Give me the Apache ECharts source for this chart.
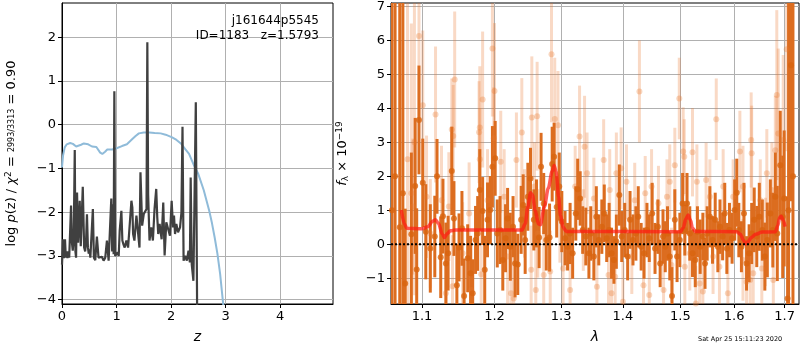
<!DOCTYPE html>
<html>
<head>
<meta charset="utf-8">
<script src="https://cdn.jsdelivr.net/npm/echarts@6/dist/echarts.min.js"></script>
<style>
html,body{margin:0;padding:0;background:#fff}
#main{width:800px;height:350px}
</style>
</head>
<body>
<div id="main"></div>
<script>
// ---- left panel: log p(z) and chi2 curve ----
var pzZ = [0.000,0.010,0.020,0.035,0.055,0.070,0.086,0.100,0.117,0.132,0.148,0.166,0.182,0.197,0.215,0.234,0.246,0.258,0.276,0.295,
  0.310,0.325,0.344,0.362,0.381,0.406,0.425,0.440,0.458,0.475,0.490,0.505,0.520,0.545,0.566,0.585,0.610,0.640,0.670,0.700,
  0.732,0.763,0.793,0.824,0.855,0.886,0.904,0.920,0.935,0.947,0.960,0.975,0.990,1.021,1.040,1.058,1.089,1.107,1.130,1.150,
  1.181,1.212,1.242,1.273,1.290,1.304,1.328,1.365,1.390,1.421,1.439,1.470,1.500,1.531,1.550,1.565,1.580,1.605,1.636,1.667,
  1.697,1.728,1.747,1.765,1.790,1.827,1.857,1.882,1.913,1.943,1.980,2.011,2.036,2.054,2.073,2.097,2.128,2.165,2.190,2.210,
  2.230,2.260,2.290,2.320,2.345,2.360,2.380,2.410,2.454,2.480];
var pzVal = [-3.20,-3.19,-2.62,-3.05,-2.62,-3.04,-2.90,-3.05,-2.90,-3.04,-3.02,-1.85,-2.70,-2.88,-2.60,-0.58,-2.90,-3.04,-1.55,-2.70,
  -2.30,-1.74,-2.78,-2.80,-1.42,-2.81,-2.90,-2.70,-2.05,-2.80,-2.95,-2.85,-3.04,-3.00,-1.93,-3.04,-3.10,-2.56,-3.04,-3.04,
  -3.02,-3.11,-3.04,-2.65,-3.11,-3.11,-1.69,-2.90,-1.82,-2.96,0.76,-3.00,-3.04,-2.92,-3.00,-2.43,-1.97,-2.65,-2.75,-2.81,
  -2.65,-2.81,-2.85,-1.74,-1.89,-2.50,-2.65,-2.08,-2.04,-2.81,-1.09,-2.31,-2.04,-2.08,-1.93,1.885,-1.60,-2.65,-2.35,-2.65,
  -1.93,-1.47,-2.12,-2.50,-2.27,-2.62,-1.78,-2.99,-2.23,-2.20,-2.54,-1.74,-2.35,-2.08,-2.50,-2.27,-2.46,-2.35,-2.01,-0.05,
  -3.11,-3.00,-3.11,-2.88,-3.15,-1.21,-3.20,-3.57,0.51,-4.60];

var chiZ = [0.00,0.02,0.05,0.087,0.15,0.20,0.26,0.29,0.35,0.40,0.48,0.55,0.63,0.70,0.74,0.79,0.83,0.92,1.00,1.10,
  1.19,1.29,1.35,1.41,1.50,1.60,1.70,1.81,1.90,2.02,2.10,2.18,2.26,2.33,2.42,2.50,2.60,2.70,2.75,2.80,2.85,2.90,2.95,3.00];
var chiVal = [-0.98,-0.70,-0.52,-0.45,-0.42,-0.44,-0.50,-0.50,-0.46,-0.43,-0.45,-0.50,-0.51,-0.64,-0.67,-0.62,-0.57,-0.57,-0.54,-0.49,
  -0.45,-0.33,-0.26,-0.20,-0.18,-0.18,-0.19,-0.20,-0.23,-0.29,-0.35,-0.43,-0.56,-0.67,-0.93,-1.13,-1.50,-1.97,-2.25,-2.58,-2.95,-3.41,-4.03,-4.60];

// ---- right panel: spectrum ----
var darkLam = [1.061,1.065,1.071,1.075,1.078,1.086,1.091,1.093,1.096,1.101,1.105,1.111,1.117,1.120,1.125,1.128,1.132,1.135,1.140,1.143,
  1.147,1.150,1.154,1.157,1.162,1.166,1.169,1.173,1.176,1.179,1.183,1.186,1.190,1.194,1.197,1.201,1.204,1.208,1.212,1.216,
  1.219,1.223,1.227,1.230,1.234,1.239,1.242,1.245,1.249,1.253,1.258,1.262,1.266,1.269,1.273,1.277,1.282,1.286,1.289,1.293,
  1.297,1.301,1.306,1.310,1.314,1.318,1.323,1.326,1.330,1.334,1.339,1.344,1.347,1.352,1.356,1.360,1.365,1.369,1.373,1.377,
  1.381,1.385,1.389,1.394,1.398,1.403,1.408,1.412,1.417,1.422,1.426,1.431,1.436,1.441,1.445,1.450,1.455,1.460,1.464,1.469,
  1.473,1.477,1.481,1.485,1.490,1.494,1.499,1.504,1.508,1.512,1.517,1.522,1.527,1.531,1.536,1.541,1.545,1.549,1.554,1.559,
  1.564,1.569,1.573,1.578,1.582,1.586,1.591,1.596,1.601,1.605,1.609,1.614,1.619,1.624,1.629,1.634,1.639,1.644,1.649,1.655,
  1.660,1.665,1.671,1.676,1.681,1.685,1.691,1.696,1.699,1.706,1.708,1.713,1.717];
var darkFlux = [1.0,2.0,0.5,1.5,-1.15,0.3,1.72,-0.74,3.66,1.81,0.37,-0.12,0.23,2.0,-0.38,0.83,-0.56,-0.26,2.16,0.76,
  -1.2,-0.09,0.47,-1.52,-0.41,-0.85,-1.44,0.13,0.32,1.6,0.98,-0.75,0.72,1.01,2.28,2.53,0.32,0.42,-0.46,0.18,
  0.76,-0.07,0.52,-0.56,-0.59,0.72,1.16,0.13,1.4,1.94,0.72,0.91,0.2,2.28,1.2,0.13,0.2,2.36,2.58,1.1,
  1.7,0.67,0.18,-0.07,0.32,-0.26,0.91,1.62,1.35,0.42,0.23,-0.26,0.32,-0.36,0.81,0.13,0.52,0.91,0.18,0.42,
  -0.26,-0.46,0.08,1.45,0.23,0.42,-0.36,0.72,0.13,0.32,0.81,-0.07,-0.26,0.42,0.18,0.91,-0.12,0.52,-0.56,0.23,
  -0.07,0.32,-0.36,-1.52,0.72,-0.36,0.13,1.2,0.42,1.2,0.32,-0.26,-0.46,0.37,-0.07,0.23,-0.56,0.32,0.81,0.13,
  0.72,-0.07,0.52,0.23,0.91,-0.12,0.42,0.18,1.01,1.52,0.42,-0.07,0.91,-0.56,-0.26,0.32,0.72,0.23,0.81,0.42,
  -0.36,0.13,0.91,0.42,1.4,0.32,2.33,0.81,1.35,-1.59,1.0,5.27,2.0];
var darkErr = [9,9,9,9,2.2,2.4,2.0,1.8,1.6,1.3,1.4,1.3,1.2,1.1,1.2,1.1,1.2,1.1,1.3,1.1,
  1.2,1.0,1.1,1.1,1.0,1.1,1.0,1.0,1.1,1.2,1.0,1.0,1.1,1.0,1.2,1.1,1.0,1.0,0.9,1.0,
  0.9,1.0,0.9,1.0,0.9,1.0,0.9,1.0,1.0,0.9,0.9,1.0,0.9,1.0,0.9,0.9,1.0,1.1,1.0,0.9,
  1.0,0.9,0.8,0.7,0.9,0.75,0.8,0.9,0.8,0.7,0.85,0.75,0.8,0.7,0.9,0.75,0.8,0.85,0.7,0.8,
  0.75,0.7,0.8,0.9,0.75,0.8,0.7,0.85,0.75,0.8,0.9,0.7,0.75,0.8,0.7,0.9,0.75,0.8,0.7,0.8,
  0.75,0.8,0.7,0.85,0.9,0.75,0.8,0.9,0.75,0.9,0.8,0.7,0.8,0.75,0.8,0.7,0.75,0.8,0.9,0.7,
  0.8,0.75,0.8,0.7,0.9,0.75,0.8,0.75,0.9,1.0,0.8,0.75,0.9,0.8,0.85,0.9,0.95,0.9,1.0,0.9,
  1.0,1.1,1.0,1.1,1.3,1.4,1.6,1.8,2.0,3.0,9,4.0,9];

var lightLam = [1.081,1.086,1.090,1.096,1.101,1.118,1.144,1.140,1.142,1.179,1.178,1.183,1.197,1.200,1.199,1.179,1.240,1.255,1.263,1.285,
  1.290,1.295,1.329,1.337,1.428,1.498,1.505,1.522,1.566,1.633,1.634,1.684,1.704,1.687,1.697,
  1.132,1.141,1.167,1.181,1.224,1.228,1.254,1.261,1.273,1.283,1.303,1.314,1.357,1.376,1.381,1.387,1.400,1.435,1.445,1.470,
  1.484,1.508,1.528,1.535,1.541,1.572,1.588,1.624,1.631,1.637,1.654,1.677,
  1.088,1.106,1.126,1.136,1.164,1.190,1.214,1.209,1.232,1.244,1.259,1.298,1.322,1.341,1.352,1.368,1.378,1.389,1.397,1.406,
  1.420,1.438,1.449,1.461,1.476,1.481,1.490,1.507,1.530,1.547,1.554,1.579,1.598,1.611,1.617,1.651,1.664,1.674,1.681,
  1.111,1.155,1.219,1.264,1.335,1.415,1.517,1.560,1.617,1.661];
var lightFlux = [2.5,1.5,3.0,6.13,4.09,3.82,4.85,3.38,3.19,3.44,3.30,4.26,5.76,4.51,3.12,2.5,3.29,3.73,3.77,5.59,
  3.69,3.5,3.17,2.87,4.5,4.29,2.73,2.71,3.68,3.07,2.68,4.39,5.74,3.26,3.07,
  -1.44,-1.23,-1.34,-0.88,-1.44,-1.59,-0.75,-1.34,-0.9,-0.8,-0.71,-1.34,-1.25,-0.9,-1.44,-0.95,-1.69,-1.2,-1.49,-1.34,
  -0.61,-0.66,-1.74,-1.15,-1.39,-0.66,-1.44,-1.1,-1.05,-0.85,-0.71,-1.05,
  1.11,1.4,1.3,1.11,0.91,1.3,1.4,2.43,2.48,0.91,1.7,0.76,1.7,2.09,1.35,2.48,1.6,2.09,2.24,1.84,
  1.3,1.5,1.7,1.21,1.4,1.84,2.33,2.58,1.84,1.89,1.4,1.7,1.4,2.73,1.7,1.3,2.09,1.6,2.77,
  0.32,-0.26,-0.36,0.32,0.42,-0.36,-0.26,-0.36,-0.46,0.07];
var lightErr = [5,5,4.5,2.5,2.2,2.0,2.0,1.5,1.5,1.8,1.5,2.0,2.0,2.0,1.5,1.5,1.6,1.8,1.6,2.0,
  1.8,1.6,1.5,1.5,1.5,1.2,1.3,1.3,1.2,1.4,1.4,2.5,3.0,2.5,2.5,
  1.5,1.5,1.4,1.4,1.3,1.3,1.3,1.3,1.3,1.2,1.2,1.2,1.2,1.2,1.2,1.2,1.2,1.1,1.1,1.1,
  1.1,1.1,1.1,1.1,1.1,1.1,1.1,1.2,1.2,1.2,1.2,1.4,
  2.0,1.8,1.6,1.6,1.5,1.5,1.4,1.5,1.4,1.3,1.3,1.3,1.2,1.2,1.2,1.2,1.2,1.2,1.2,1.1,
  1.1,1.1,1.1,1.1,1.1,1.1,1.1,1.1,1.1,1.1,1.1,1.1,1.1,1.2,1.2,1.2,1.3,1.4,1.6,
  1.6,1.5,1.4,1.3,1.2,1.1,1.1,1.1,1.2,1.3];

var modelLam = [1.073,1.077,1.080,1.100,1.108,1.114,1.118,1.122,1.127,1.130,1.134,1.138,1.145,1.240,1.245,1.249,1.253,1.256,1.260,1.265,
  1.268,1.274,1.280,1.286,1.289,1.292,1.296,1.299,1.303,1.308,1.500,1.505,1.510,1.514,1.518,1.522,1.527,1.605,1.612,1.618,
  1.622,1.627,1.633,1.642,1.655,1.681,1.686,1.690,1.693,1.697,1.701];
var modelFlux = [1.01,0.60,0.47,0.46,0.52,0.68,0.72,0.62,0.30,0.20,0.32,0.40,0.42,0.42,0.60,1.10,1.52,1.45,1.00,0.60,
  0.58,1.10,1.65,2.15,2.32,2.15,1.40,0.85,0.50,0.38,0.37,0.48,0.75,0.86,0.72,0.48,0.38,0.37,0.30,0.12,
  0.01,0.08,0.20,0.30,0.36,0.37,0.55,0.80,0.83,0.70,0.52];

var zTicks = [0,1,2,3,4];
var pzTicks = [-4,-3,-2,-1,0,1,2];
var lamTicks = [1.1,1.2,1.3,1.4,1.5,1.6,1.7];
var fluxTicks = [-1,0,1,2,3,4,5,6,7];

var lamMin = 1.0598, lamMax = 1.7295;
var font = 'DejaVu Sans';

function pairs(a, b) { return a.map(function (v, i) { return [v, b[i]]; }); }
function bars(l, f, e) { return l.map(function (v, i) { return [v, f[i] - e[i], f[i] + e[i]]; }); }
function minus(v) { return String(v).replace('-', '\u2212'); }

function errRender(params, api) {
    var top = api.coord([api.value(0), api.value(2)]);
    var bot = api.coord([api.value(0), api.value(1)]);
    return {
        type: 'rect',
        shape: { x: top[0] - 1.5, y: top[1], width: 3, height: bot[1] - top[1] },
        style: { fill: api.visual('color') }
    };
}

function xAxisBase(idx, name) {
    return {
        gridIndex: idx, name: name, nameLocation: 'middle', nameGap: 26,
        nameTextStyle: { fontFamily: font, fontSize: 14, fontStyle: 'italic', color: '#000' },
        axisLine: { show: true, onZero: false, lineStyle: { color: '#000', width: 1 } },
        axisTick: { show: true, length: 4, lineStyle: { color: '#000' } },
        axisLabel: { fontFamily: font, fontSize: 13, color: '#000', margin: 6 },
        splitLine: { show: true, lineStyle: { color: '#b0b0b0', width: 1 } }
    };
}

var chart = echarts.init(document.getElementById('main'));

var xa0 = xAxisBase(0, 'z');
xa0.type = 'value'; xa0.min = 0; xa0.max = 4.97;
xa0.axisTick.customValues = zTicks;
xa0.axisLabel.customValues = zTicks;
xa0.axisLabel.formatter = minus;

var xa1 = xAxisBase(1, 'λ');
xa1.type = 'log'; xa1.min = lamMin; xa1.max = lamMax;
xa1.axisTick.customValues = lamTicks;
xa1.axisLabel.customValues = lamTicks;
xa1.axisLabel.formatter = function (v) { return (+v).toFixed(1); };

var ya0 = xAxisBase(0, 'log {i|p}(z) / {i|χ}{sup|2} = {fr|2993/3313} = 0.90');
ya0.type = 'value'; ya0.min = -4.1; ya0.max = 2.78; ya0.nameGap = 42;
ya0.nameTextStyle = { fontFamily: font, fontSize: 13, color: '#000',
    rich: { i: { fontFamily: font, fontSize: 13, fontStyle: 'italic' },
            sup: { fontFamily: font, fontSize: 9, padding: [0, 0, 7, 0] },
            fr: { fontFamily: font, fontSize: 8 } } };
ya0.axisTick.customValues = pzTicks;
ya0.axisLabel.customValues = pzTicks;
ya0.axisLabel.formatter = minus;

var ya1 = xAxisBase(1, '{i|f}{sub|λ} × 10{sup|−19}');
ya1.type = 'value'; ya1.min = -1.755; ya1.max = 7.1; ya1.nameGap = 40;
ya1.nameTextStyle = { fontFamily: font, fontSize: 13, color: '#000',
    rich: { i: { fontFamily: font, fontSize: 13, fontStyle: 'italic' },
            sub: { fontFamily: font, fontSize: 9, padding: [6, 0, 0, 0] },
            sup: { fontFamily: font, fontSize: 9, padding: [0, 0, 7, 0] } } };
ya1.axisTick.customValues = fluxTicks;
ya1.axisLabel.customValues = fluxTicks;
ya1.axisLabel.formatter = minus;

var option = {
    animation: false,
    backgroundColor: '#fff',
    title: [
        { text: 'j161644p5545\nID=1183   z=1.5793', left: 319, top: 13, padding: 0, textAlign: 'right',
          textStyle: { fontFamily: font, fontSize: 12, fontWeight: 'normal', color: '#000', lineHeight: 15 } },
        { text: 'Sat Apr 25 15:11:23 2020', left: 698, top: 336, padding: 0,
          textStyle: { fontFamily: font, fontSize: 6.5, fontWeight: 'normal', color: '#000' } }
    ],
    grid: [
        { left: 62, top: 3, width: 271, height: 301, show: true, borderColor: '#000', borderWidth: 1, outerBoundsMode: 'none' },
        { left: 391, top: 3, width: 408, height: 301, show: true, borderColor: '#000', borderWidth: 1, outerBoundsMode: 'none' }
    ],
    xAxis: [xa0, xa1],
    yAxis: [ya0, ya1],
    series: [
        { name: 'chi2', type: 'line', xAxisIndex: 0, yAxisIndex: 0, data: pairs(chiZ, chiVal), showSymbol: false,
          lineStyle: { color: '#8fbbd9', width: 2 }, silent: true },
        { name: 'pz', type: 'line', xAxisIndex: 0, yAxisIndex: 0, data: pairs(pzZ, pzVal), showSymbol: false,
          lineStyle: { color: '#404040', width: 2.2 }, silent: true },

        { type: 'custom', xAxisIndex: 1, yAxisIndex: 1, renderItem: errRender, data: bars(lightLam, lightFlux, lightErr),
          encode: { x: 0, y: [1, 2] }, clip: true, silent: true, itemStyle: { color: 'rgba(232,120,45,0.28)' } },
        { type: 'scatter', xAxisIndex: 1, yAxisIndex: 1, data: pairs(lightLam, lightFlux), symbolSize: 6, silent: true,
          itemStyle: { color: 'rgba(232,120,45,0.38)' } },
        { type: 'custom', xAxisIndex: 1, yAxisIndex: 1, renderItem: errRender, data: bars(darkLam, darkFlux, darkErr),
          encode: { x: 0, y: [1, 2] }, clip: true, silent: true, itemStyle: { color: '#dc6d20' } },
        { type: 'scatter', xAxisIndex: 1, yAxisIndex: 1, data: pairs(darkLam, darkFlux), symbolSize: 6, silent: true,
          itemStyle: { color: '#d8640f' } },
        { name: 'model', type: 'line', xAxisIndex: 1, yAxisIndex: 1, data: pairs(modelLam, modelFlux), showSymbol: false,
          smooth: 0.3, smoothMonotone: 'x', lineStyle: { color: 'rgba(255,25,20,0.7)', width: 3.5 }, silent: true },
        { name: 'zero', type: 'line', xAxisIndex: 1, yAxisIndex: 1, data: [[lamMin, 0], [lamMax, 0]], showSymbol: false,
          lineStyle: { color: '#000', width: 2, type: [2, 2] }, silent: true }
    ]
};
chart.setOption(option);
</script>
</body>
</html>
